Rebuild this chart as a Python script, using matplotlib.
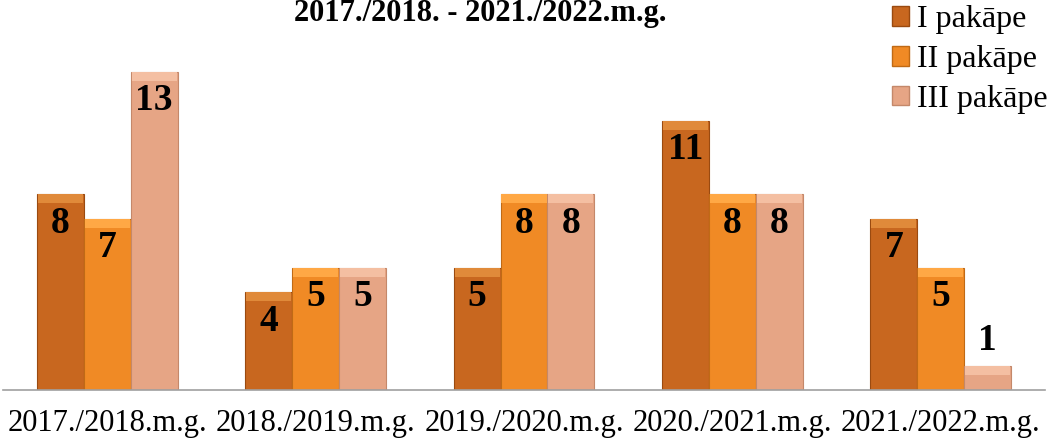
import numpy as np
import matplotlib.pyplot as plt
from matplotlib.patches import Patch

years = ['2017./2018.m.g.', '2018./2019.m.g.', '2019./2020.m.g.',
         '2020./2021.m.g.', '2021./2022.m.g.']
series_names = ['I pakāpe', 'II pakāpe', 'III pakāpe']
level1 = [8, 4, 5, 11, 7]
level2 = [7, 5, 8, 8, 5]
level3 = [13, 5, 8, 8, 1]

colors = ['#c8671f', '#f08a25', '#e6a585']
edges = ['#9a4a10', '#c06a15', '#c4886a']
caps = ['#e08a3a', '#ffa845', '#f4bfa2']

plt.rcParams['font.family'] = ['Liberation Serif', 'DejaVu Serif']

fig = plt.figure(figsize=(10.51, 4.43), dpi=100)
ax = fig.add_axes([3 / 1051, 53 / 443, 1042 / 1051, 367.5 / 443])

x = np.arange(len(years))
width = 0.225
data = [level1, level2, level3]

for i, vals in enumerate(data):
    pos = x + (i - 1) * width
    ax.bar(pos, vals, width, color=colors[i], edgecolor=edges[i], linewidth=0.8, zorder=2)
    # light bevel on top of each bar
    ax.bar(pos, [0.35] * len(vals), width * 0.96, bottom=np.array(vals) - 0.37,
           color=caps[i], linewidth=0, zorder=3)
    for p, v in zip(pos, vals):
        if v >= 3:
            ax.text(p, v - 1.2, str(v), ha='center', va='center',
                    fontsize=27, fontweight='bold', color='black', zorder=4)
        else:
            ax.text(p, v + 1.0, str(v), ha='center', va='center',
                    fontsize=27, fontweight='bold', color='black', zorder=4)

ax.set_xlim(-0.5, len(years) - 0.5)
ax.set_ylim(0, 15)
ax.set_xticks(x)
ax.set_xticklabels(years, fontsize=22)
ax.tick_params(axis='x', length=0, pad=14)
ax.set_yticks([])
for s in ['top', 'right', 'left']:
    ax.spines[s].set_visible(False)
ax.spines['bottom'].set_color('#a0a0a0')
ax.spines['bottom'].set_linewidth(1.2)

fig.text(480 / 1051, 1 - 13 / 443, '2017./2018. - 2021./2022.m.g.', ha='center', va='center',
         fontsize=22, fontweight='bold')

handles = [Patch(facecolor=colors[i], edgecolor=edges[i], label=series_names[i]) for i in range(3)]
fig.legend(handles=handles, loc='upper right', bbox_to_anchor=(1.0, 0.995), frameon=False,
           fontsize=23, handlelength=0.55, handleheight=0.55, handletextpad=0.25,
           labelspacing=0.34, borderaxespad=0.0, borderpad=0.1)

fig.savefig('out.png', dpi=100)
